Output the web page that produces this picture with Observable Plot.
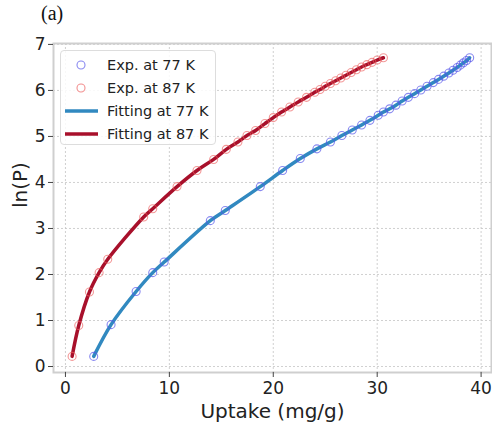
<!DOCTYPE html>
<html>
<head>
<meta charset="utf-8">
<script src="https://cdn.jsdelivr.net/npm/d3@7"></script>
<script src="https://cdn.jsdelivr.net/npm/@observablehq/plot@0.6"></script>
<style>
  body { margin: 0; background: #fff; }
  #wrap { position: relative; width: 492px; height: 427px; font-family: "DejaVu Sans", sans-serif; }
  #tag { position: absolute; left: 41px; top: 2px; font-family: "Liberation Serif", "DejaVu Serif", serif; font-size: 20px; color: #111; }
  #legend { position: absolute; left: 60px; top: 50px; width: 154px; height: 93px; background: rgba(255,255,255,0.85);
            border: 1px solid #ddd; border-radius: 4px; font-size: 14.5px; color: #222; }
  .row { position: absolute; left: 0; height: 22px; display: flex; align-items: center; }
  .row svg { width: 44px; height: 22px; }
  .row span { margin-left: 2px; }
</style>
</head>
<body>
<div id="wrap">
  <div id="chart"></div>
  <div id="tag">(a)</div>
  <div id="legend"></div>
</div>
<script>
// 77 K experimental points (uptake mg/g, ln P)
const x77 = [2.72, 4.39, 6.8, 8.4, 9.5, 13.94, 15.38, 18.75, 20.9, 22.6, 24.2, 25.5, 26.6, 27.6, 28.5, 29.3, 30.1, 30.6, 31.2, 31.8, 32.4, 33.0, 33.6, 34.2, 34.8, 35.4, 35.9, 36.4, 36.9, 37.3, 37.7, 38.0, 38.3, 38.6, 38.9];
const y77 = [0.22, 0.91, 1.63, 2.04, 2.27, 3.17, 3.39, 3.91, 4.26, 4.52, 4.73, 4.88, 5.02, 5.14, 5.25, 5.35, 5.46, 5.53, 5.6, 5.68, 5.77, 5.85, 5.93, 6.01, 6.09, 6.17, 6.24, 6.31, 6.38, 6.44, 6.5, 6.55, 6.6, 6.65, 6.71];
// 87 K experimental points
const x87 = [0.64, 1.28, 2.31, 3.24, 4.07, 7.53, 8.4, 10.74, 12.66, 14.26, 15.48, 16.6, 17.47, 18.3, 19.2, 20.0, 20.8, 21.6, 22.4, 23.2, 24.0, 24.5, 25.0, 25.5, 26.0, 26.5, 27.0, 27.5, 28.0, 28.5, 29.0, 29.5, 30.0, 30.6];
const y87 = [0.22, 0.89, 1.62, 2.04, 2.33, 3.25, 3.43, 3.91, 4.26, 4.5, 4.72, 4.88, 5.02, 5.13, 5.28, 5.41, 5.53, 5.64, 5.75, 5.85, 5.96, 6.02, 6.09, 6.15, 6.21, 6.27, 6.33, 6.39, 6.45, 6.51, 6.56, 6.61, 6.66, 6.71];
const xTicks = [0, 10, 20, 30, 40];
const yTicks = [0, 1, 2, 3, 4, 5, 6, 7];
const seriesNames = ["Exp. at 77 K", "Exp. at 87 K", "Fitting at 77 K", "Fitting at 87 K"];

const c77dot = "#5555ea", c87dot = "#ec6060", c77line = "#3189c0", c87line = "#a8102b";
const d77 = x77.map((x, i) => ({x, y: y77[i]}));
const d87 = x87.map((x, i) => ({x, y: y87[i]}));

const chart = Plot.plot({
  width: 492, height: 427,
  marginLeft: 53, marginRight: 1, marginTop: 43, marginBottom: 55,
  style: {fontFamily: "DejaVu Sans, sans-serif", color: "#222", background: "#fff"},
  x: {domain: [-1.15, 41]},
  y: {domain: [-0.13, 7.02]},
  marks: [
    Plot.gridX(xTicks, {stroke: "#c4c4c4", strokeOpacity: 1, strokeDasharray: "2,2", strokeWidth: 0.8}),
    Plot.gridY(yTicks, {stroke: "#c4c4c4", strokeOpacity: 1, strokeDasharray: "2,2", strokeWidth: 0.8}),
    Plot.frame({stroke: "#cfcfcf", strokeWidth: 2}),
    Plot.line(d77, {x: "x", y: "y", stroke: c77line, strokeWidth: 3.5, curve: "catmull-rom"}),
    Plot.line(d87, {x: "x", y: "y", stroke: c87line, strokeWidth: 3.5, curve: "catmull-rom"}),
    Plot.dot(d77, {x: "x", y: "y", r: 4, stroke: c77dot, strokeOpacity: 0.7, strokeWidth: 1.1, fill: "none"}),
    Plot.dot(d87, {x: "x", y: "y", r: 4, stroke: c87dot, strokeOpacity: 0.65, strokeWidth: 1.1, fill: "none"}),
    Plot.axisX({ticks: xTicks, tickSize: 5, tickPadding: 4, fontSize: 17, label: null, stroke: "#444"}),
    Plot.axisY({ticks: yTicks, tickSize: 5, tickPadding: 3, fontSize: 17, label: null, stroke: "#444"}),
    Plot.text(["Uptake (mg/g)"], {frameAnchor: "bottom", dy: 45, fontSize: 20, fill: "#222"}),
    Plot.text(["ln(P)"], {frameAnchor: "left", dx: -33, rotate: -90, fontSize: 20, fill: "#222"})
  ]
});
document.getElementById("chart").appendChild(chart);

// legend
const leg = document.getElementById("legend");
const sym = [
  `<circle cx="20" cy="11" r="4" fill="none" stroke="${c77dot}" stroke-opacity="0.7" stroke-width="1.1"/>`,
  `<circle cx="20" cy="11" r="4" fill="none" stroke="${c87dot}" stroke-opacity="0.7" stroke-width="1.1"/>`,
  `<line x1="4" x2="37" y1="11" y2="11" stroke="${c77line}" stroke-width="3.5"/>`,
  `<line x1="4" x2="37" y1="11" y2="11" stroke="${c87line}" stroke-width="3.5"/>`
];
seriesNames.forEach((name, i) => {
  const row = document.createElement("div");
  row.className = "row";
  row.style.top = (3 + i * 23) + "px";
  row.innerHTML = `<svg>${sym[i]}</svg><span>${name}</span>`;
  leg.appendChild(row);
});
</script>
</body>
</html>
